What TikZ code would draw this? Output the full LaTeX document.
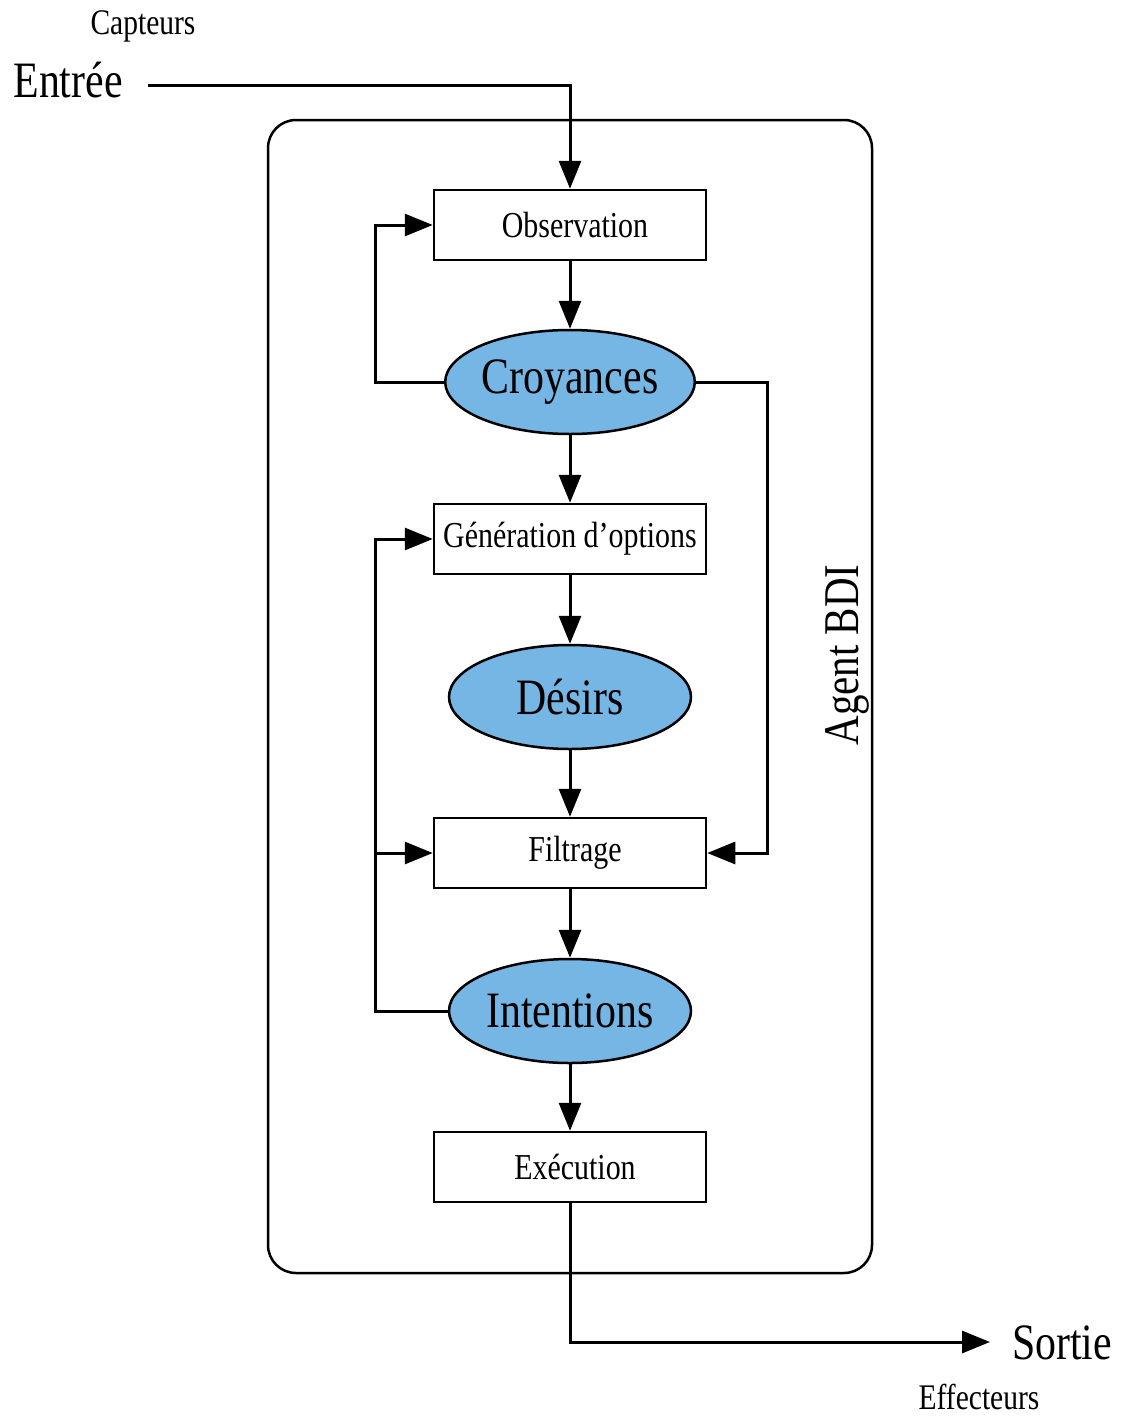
\documentclass[tikz,border=0pt]{standalone}
\usepackage{fontspec}
\setmainfont{Liberation Serif}[FakeStretch=0.82]
\usetikzlibrary{arrows.meta,shapes.geometric}
\definecolor{bdiblue}{RGB}{117,182,228}

\begin{document}
\begin{tikzpicture}[x=1pt,y=-1pt,line width=3pt,
  >={Triangle[length=28pt,width=22pt]},
  nudge/.style={execute at begin node={\hspace*{#1}}},
  stepbox/.style={draw,line width=2.5pt,minimum width=272pt,minimum height=70pt,
    inner sep=0pt,font=\fontsize{36.5}{40}\selectfont},
  state/.style={ellipse,draw,fill=bdiblue,line width=2.5pt,minimum width=242pt,
    minimum height=104pt,inner sep=0pt,font=\fontsize{51}{56}\selectfont},
  bigtext/.style={inner sep=0pt,font=\fontsize{51}{56}\selectfont},
  smalltext/.style={inner sep=0pt,font=\fontsize{36}{40}\selectfont}]
\useasboundingbox (0,0) rectangle (1121,1416);

% agent frame
\draw[rounded corners=28pt,line width=2.5pt] (268,120) rectangle (872,1273);
\node[rotate=90,inner sep=0pt,font=\fontsize{50}{54}\selectfont] (agent) at (847,655) {Agent BDI};

% processing steps and mental states
\node[stepbox,nudge=10pt] (obs) at (570,225) {Observation};
\node[state] (croy) at (570,382) {Croyances};
\node[stepbox] (gen) at (570,539) {Génération d’options};
\node[state] (des) at (570,697) {Désirs};
\node[stepbox,nudge=10pt] (filt) at (570,853) {Filtrage};
\node[state] (intent) at (570,1011) {Intentions};
\node[stepbox,nudge=10pt] (exec) at (570,1167) {Exécution};

% input and output labels
\node[smalltext] (capt) at (143,26) {Capteurs};
\node[bigtext,anchor=base west] (entree) at (12,97) {Entrée};
\node[bigtext] (sortie) at (1062,1343) {Sortie};
\node[smalltext] (effect) at (979,1397) {Effecteurs};

% routing points
\coordinate (inStart) at (148,85);
\coordinate (outEnd) at (990,1342);
\coordinate (lb) at (375,0);
\coordinate (rb) at (767,0);

% main flow
\draw[->] (inStart) -| (obs.north);
\draw[->] (obs.south) -- (croy.north);
\draw[->] (croy.south) -- (gen.north);
\draw[->] (gen.south) -- (des.north);
\draw[->] (des.south) -- (filt.north);
\draw[->] (filt.south) -- (intent.north);
\draw[->] (intent.south) -- (exec.north);
\draw[->] (exec.south) |- (outEnd);

% feedback loops
\draw[->] (croy.west) -- (croy.west -| lb) |- (obs.west);
\draw[->] (croy.east) -- (croy.east -| rb) |- (filt.east);
\draw[->] (intent.west) -- (intent.west -| lb) |- (gen.west);
\draw[->] (filt.west -| lb) -- (filt.west);
\end{tikzpicture}
\end{document}
